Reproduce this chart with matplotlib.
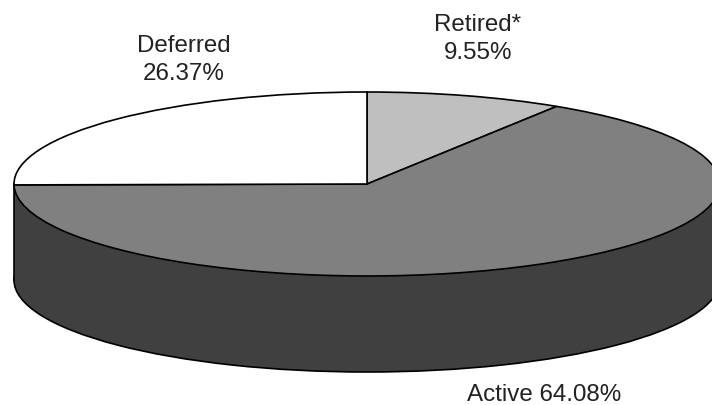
import matplotlib
matplotlib.use("Agg")
import matplotlib.pyplot as plt
from matplotlib.patches import Rectangle

plt.rcParams['font.family'] = ['Liberation Sans', 'DejaVu Sans']

# ── Data ────────────────────────────────────────────────────────
labels = ["Retired*", "Active", "Deferred"]
shares = [9.55, 64.08, 26.37]
colors = ["#bfbfbf", "#808080", "#ffffff"]
# the tilted view foreshortens the two small slices a little
skew = [0.945, 1.0, 0.954]

COL_WALL = "#404040"
COL_TEXT = "#222222"
W, H = 712, 405
CX, CY = 367, 184      # pie centre, pixels
RX, RY = 353, 92       # ellipse radii, pixels
DEPTH = 96             # height of the wall, pixels
LW = 1.2
FS = 17.4

fig = plt.figure(figsize=(W / 100, H / 100), dpi=100)
ax = fig.add_axes([0, 0, 1, 1])

wall = -DEPTH / RY
edge = dict(edgecolor="black", linewidth=LW)

# wall: lower ellipse plus a block up to the top face
ax.pie([1], colors=[COL_WALL], center=(0, wall), radius=1, wedgeprops=edge)
ax.add_patch(Rectangle((-1, wall), 2, -wall, facecolor=COL_WALL, edgecolor="none", zorder=1.5))
ax.plot([-1, -1], [0, wall], color="black", lw=LW, zorder=1.6)
ax.plot([1, 1], [0, wall], color="black", lw=LW, zorder=1.6)

# top face, clockwise from 12 o'clock
drawn = [s * k for s, k in zip(shares, skew)]
drawn[1] = 100 - drawn[0] - drawn[2]
wedges, _ = ax.pie(drawn, colors=colors, startangle=90, counterclock=False,
                   radius=1, wedgeprops=edge)
for w in wedges:
    w.set_zorder(3)

ax.set_aspect("auto")
ax.set_xlim(-CX / RX, (W - CX) / RX)
ax.set_ylim((CY - H) / RY, CY / RY)
ax.axis("off")

# baseline of the last line is what gets placed
fig.text(184 / W, 1 - 80 / H, f"{labels[2]}\n{shares[2]:.2f}%", ha="center", va="baseline",
         fontsize=FS, color=COL_TEXT, linespacing=1.33)
fig.text(478 / W, 1 - 59 / H, f"{labels[0]}\n{shares[0]:.2f}%", ha="center", va="baseline",
         fontsize=FS, color=COL_TEXT, linespacing=1.33)
fig.text(544 / W, 1 - 401 / H, f"{labels[1]} {shares[1]:.2f}%", ha="center", va="baseline",
         fontsize=FS, color=COL_TEXT)

fig.savefig("out.png", dpi=100, facecolor="white")
